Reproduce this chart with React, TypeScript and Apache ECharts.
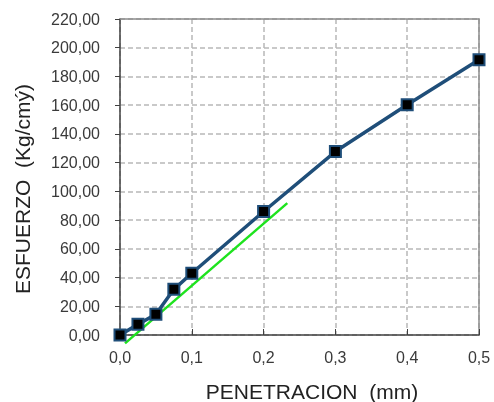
import React, { useEffect, useRef } from "react";
import * as echarts from "echarts";

const penetration = [0, 0.025, 0.05, 0.075, 0.1, 0.2, 0.3, 0.4, 0.5];
const esfuerzo = [0, 7.4, 14.4, 31.8, 43, 86, 127.7, 160.3, 191.6];
const tangentX = [0.007, 0.233];
const tangentY = [-5.8, 91.8];
const xTitle = "PENETRACION  (mm)";
const yTitle = "ESFUERZO  (Kg/cmý)";

export default function App() {
  const ref = useRef<HTMLDivElement>(null);
  useEffect(() => {
    if (!ref.current) return;
    const chart = echarts.init(ref.current, undefined, { renderer: "svg" });
    const font = "'Liberation Sans', Arial, sans-serif";
    chart.setOption({
      animation: false,
      grid: { left: 120, right: 15, top: 19, bottom: 67, containLabel: false },
      xAxis: [
        {
          type: "value",
          min: 0,
          max: 0.5,
          interval: 0.1,
          axisLine: { show: true, lineStyle: { color: "#404040", width: 1.5 } },
          axisTick: { show: true, inside: true, length: 6, lineStyle: { color: "#404040" } },
          axisLabel: {
            margin: 14,
            fontSize: 16,
            fontFamily: font,
            color: "#3a3a3a",
            formatter: (v: number) => v.toFixed(1).replace(".", ","),
          },
          splitLine: { show: true, lineStyle: { color: "#b8b8b8", type: [5, 3], width: 1.5 } },
        },
        {
          type: "value",
          position: "top",
          min: 0,
          max: 0.5,
          axisLine: { show: true, onZero: false, lineStyle: { color: "#8c8c8c", width: 1.5 } },
          axisTick: { show: false },
          axisLabel: { show: false },
          splitLine: { show: false },
        },
      ],
      yAxis: [
        {
          type: "value",
          min: 0,
          max: 220,
          interval: 20,
          axisLine: { show: true, onZero: false, lineStyle: { color: "#404040", width: 1.5 } },
          axisTick: { show: true, inside: false, length: 5, lineStyle: { color: "#404040" } },
          axisLabel: {
            margin: 20,
            fontSize: 16,
            fontFamily: font,
            color: "#3a3a3a",
            formatter: (v: number) => v.toFixed(2).replace(".", ","),
          },
          splitLine: { show: true, lineStyle: { color: "#b8b8b8", type: [5, 3], width: 1.5 } },
        },
        {
          type: "value",
          position: "right",
          min: 0,
          max: 220,
          axisLine: { show: true, onZero: false, lineStyle: { color: "#8c8c8c", width: 1.5 } },
          axisTick: { show: false },
          axisLabel: { show: false },
          splitLine: { show: false },
        },
      ],
      graphic: [
        {
          type: "text",
          x: 312,
          y: 391,
          style: {
            text: xTitle,
            font: `21px ${font}`,
            fill: "#222",
            textAlign: "center",
            textVerticalAlign: "middle",
          },
        },
        {
          type: "text",
          x: 22,
          y: 189,
          rotation: Math.PI / 2,
          style: {
            text: yTitle,
            font: `21px ${font}`,
            fill: "#222",
            textAlign: "center",
            textVerticalAlign: "middle",
          },
        },
      ],
      series: [
        {
          type: "line",
          data: tangentX.map((x, i) => [x, tangentY[i]]),
          showSymbol: false,
          symbol: "none",
          clip: false,
          lineStyle: { color: "#1ee31e", width: 2.5 },
          z: 2,
        },
        {
          type: "line",
          data: penetration.map((x, i) => [x, esfuerzo[i]]),
          symbol: "rect",
          symbolSize: 11,
          clip: false,
          lineStyle: { color: "#1f4e79", width: 3.5 },
          itemStyle: { color: "#000", borderColor: "#1f4e79", borderWidth: 2 },
          z: 3,
        },
      ],
    });
    return () => chart.dispose();
  }, []);
  return (
    <div
      ref={ref}
      style={{ position: "fixed", left: 0, top: 0, width: 494, height: 402 }}
    />
  );
}
